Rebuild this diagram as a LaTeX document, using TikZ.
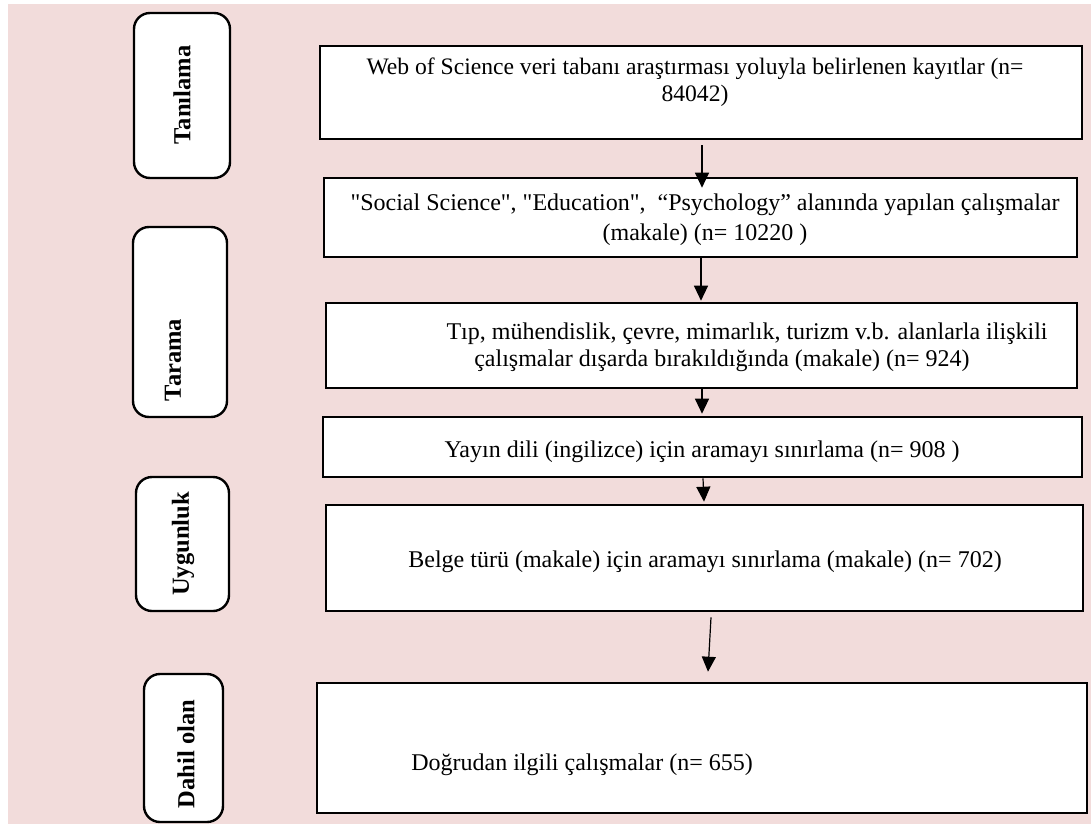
\documentclass[tikz,border=0pt]{standalone}
\usepackage{fontspec}
\setmainfont{Liberation Serif}[Ligatures=TeXOff]
\usetikzlibrary{arrows.meta,calc}
\definecolor{bgpink}{HTML}{F2DCDB}
\begin{document}
\begin{tikzpicture}[x=1pt,y=-1pt,
  mainbox/.style={draw=black, line width=2.6pt, fill=white, inner sep=0pt, rectangle},
  sidebox/.style={draw=black, line width=2.4pt, fill=white, inner sep=0pt, rectangle, rounded corners=16pt},
  maintext/.style={font=\fontsize{24}{27}\selectfont, align=center, inner sep=0pt},
  sidetext/.style={font=\fontsize{24.5}{27}\selectfont\bfseries, rotate=90, inner sep=0pt},
  arr/.style={-{Triangle[width=14pt,length=15pt]}, line width=1.2pt}]
\useasboundingbox (0,0) rectangle (1091,824);
\fill[bgpink] (8,4) rectangle (1091,824);

% side boxes
\node[sidebox, minimum width=96pt, minimum height=165pt] (s1) at (182,95.5) {};
\node[sidebox, minimum width=94pt, minimum height=190pt] (s2) at (180,322) {};
\node[sidebox, minimum width=93pt, minimum height=134pt] (s3) at (182.5,544) {};
\node[sidebox, minimum width=79pt, minimum height=148pt] (s4) at (183.5,748) {};
\node[sidetext] (l1) at (182,95) {Tanılama};
\node[sidetext] (l2) at (173,360) {Tarama};
\node[sidetext] (l3) at (183,544) {Uygunluk};
\node[sidetext] (l4) at (186,754) {Dahil olan};

% main boxes
\node[mainbox, minimum width=762pt, minimum height=93pt] (b1) at (701,92.5) {};
\node[mainbox, minimum width=753pt, minimum height=79pt] (b2) at (700.5,217.5) {};
\node[mainbox, minimum width=751pt, minimum height=85pt] (b3) at (701.5,345.5) {};
\node[mainbox, minimum width=759pt, minimum height=60pt] (b4) at (702.5,447) {};
\node[mainbox, minimum width=757pt, minimum height=106pt] (b5) at (704.5,558) {};
\node[mainbox, minimum width=770pt, minimum height=130pt] (b6) at (702,748) {};

% texts
\node[maintext, font=\fontsize{23.6}{27}\selectfont] (t1) at (695,82.4) {Web of Science veri tabanı araştırması yoluyla belirlenen kayıtlar (n=\\84042)};
\node[maintext] (t2) at (705,220) {"Social Science", "Education",\ \ “Psychology” alanında yapılan çalışmalar\\[3pt](makale) (n= 10220 )};
\node[maintext] (t3) at (722,347.4) {\hspace*{50pt}Tıp, mühendislik, çevre, mimarlık, turizm v.b. alanlarla ilişkili\\çalışmalar dışarda bırakıldığında (makale) (n= 924)};
\node[maintext, anchor=base] (t4) at (702,457) {Yayın dili (ingilizce) için aramayı sınırlama (n= 908 )};
\node[maintext, anchor=base] (t5) at (705,567) {Belge türü (makale) için aramayı sınırlama (makale) (n= 702)};
\node[maintext, anchor=base] (t6) at (582,770) {Doğrudan ilgili çalışmalar (n= 655)};

% arrows
\draw[arr] ($(b1.south)+(1,5)$) -- ($(b2.north)+(1.5,11)$);
\draw[arr] ($(b2.south)+(0.5,0)$) -- ($(b3.north)+(-0.5,-1)$);
\draw[arr] ($(b3.south)+(0.5,0)$) -- ($(b4.north)+(-0.5,-2)$);
\draw[arr] ($(b4.south)+(0.5,0)$) -- ($(b5.north)+(-0.5,-2)$);
\draw[arr] ($(b5.south)+(6.5,5)$) -- ($(b6.north)+(6,-10)$);
\end{tikzpicture}
\end{document}
